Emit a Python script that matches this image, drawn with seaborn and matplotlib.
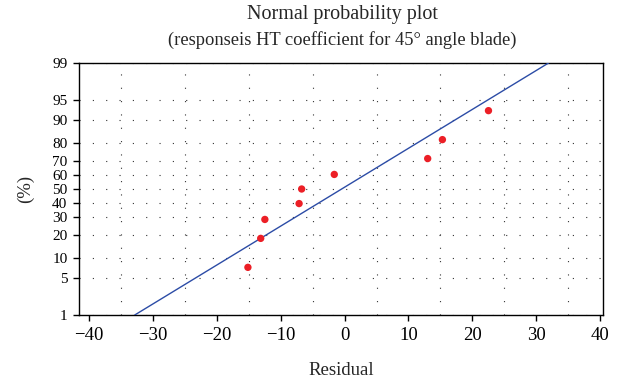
import numpy as np
import pandas as pd
import matplotlib
matplotlib.use("Agg")
import matplotlib.pyplot as plt
from matplotlib.ticker import FixedLocator, MultipleLocator, FixedFormatter
import seaborn as sns
from statistics import NormalDist

# ---- data ----
residuals = [-15.1, -13.1, -12.45, -7.1, -6.7, -1.6, 13.0, 15.3, 22.5]
percents = [7.4, 18.1, 28.7, 39.4, 50.0, 60.6, 71.3, 81.9, 92.6]
line_mean = -0.45   # residual at 50 %
line_sd = 13.9      # slope of the reference line
y_ticks = [1, 5, 10, 20, 30, 40, 50, 60, 70, 80, 90, 95, 99]
x_ticks = [-40, -30, -20, -10, 0, 10, 20, 30, 40]
title_lines = ["Normal probability plot",
               "(responseis HT coefficient for 45\u00b0 angle blade)"]

sns.set_style("white")
plt.rcParams['font.family'] = ['Liberation Serif', 'DejaVu Serif']
plt.rcParams['axes.unicode_minus'] = True

_nd = NormalDist()
_ppf = np.vectorize(lambda p: _nd.inv_cdf(min(max(p / 100.0, 1e-9), 1 - 1e-9)),
                    otypes=[float])
_cdf = np.vectorize(lambda z: 100.0 * _nd.cdf(z), otypes=[float])

def fwd(p):
    return _ppf(np.asarray(p, dtype=float))

def inv(z):
    return _cdf(np.asarray(z, dtype=float))

W, H = 621, 385
fig = plt.figure(figsize=(W / 100, H / 100), dpi=100)
ax = fig.add_axes([79 / W, 1 - 315 / H, (603 - 79) / W, (315 - 63) / H])
ax.set_yscale('function', functions=(fwd, inv))

pts = pd.DataFrame({"Residual": residuals, "Percent": percents})
line_p = np.linspace(y_ticks[0], y_ticks[-1], 200)
line_x = line_mean + line_sd * fwd(line_p)
line_df = pd.DataFrame({"Residual": line_x, "Percent": line_p})

sns.lineplot(data=line_df, x="Residual", y="Percent", ax=ax, color="#2c4ca6",
             lw=1.0, sort=False, zorder=3)
sns.scatterplot(data=pts, x="Residual", y="Percent", ax=ax, color="#ec1f26",
                s=28, edgecolor="none", zorder=4)

ax.set_xlim(-41.5, 40.4)
ax.set_ylim(1, 99)
ax.xaxis.set_major_locator(FixedLocator(x_ticks))
ax.xaxis.set_minor_locator(MultipleLocator(5))
ax.yaxis.set_major_locator(FixedLocator(y_ticks))
ax.yaxis.set_major_formatter(FixedFormatter([str(t) for t in y_ticks]))
ax.yaxis.set_minor_locator(FixedLocator([]))

grid_kw = dict(color="#333333", lw=0.8, linestyle=(0, (1, 11)))
ax.grid(False)
ax.xaxis.grid(True, which="minor", **grid_kw)
ax.yaxis.grid(True, which="major", **grid_kw)
ax.set_axisbelow(True)

for sp in ax.spines.values():
    sp.set_visible(True)
    sp.set_color("black")
    sp.set_linewidth(1.0)

ax.tick_params(axis="x", which="major", direction="out", length=4.3, width=1,
               labelsize=13.5, pad=4, bottom=True, colors="black")
ax.tick_params(axis="x", which="minor", length=0)
ax.tick_params(axis="y", which="major", direction="out", length=4.3, width=1,
               labelsize=11, pad=4, left=True, colors="black")

ax.set_xlabel("Residual", fontsize=13.5)
ax.xaxis.set_label_coords(0.5, (315 - 362) / (315 - 63))
ax.set_ylabel("(%)", fontsize=13.5)
ax.yaxis.set_label_coords((34 - 79) / (603 - 79), 0.5)

fig.text(342 / W, 1 - 18.5 / H, title_lines[0], fontsize=14.5,
         ha="center", va="baseline")
fig.text(342 / W, 1 - 44.5 / H, title_lines[1], fontsize=13.3,
         ha="center", va="baseline")

fig.savefig("out.png", dpi=100)
